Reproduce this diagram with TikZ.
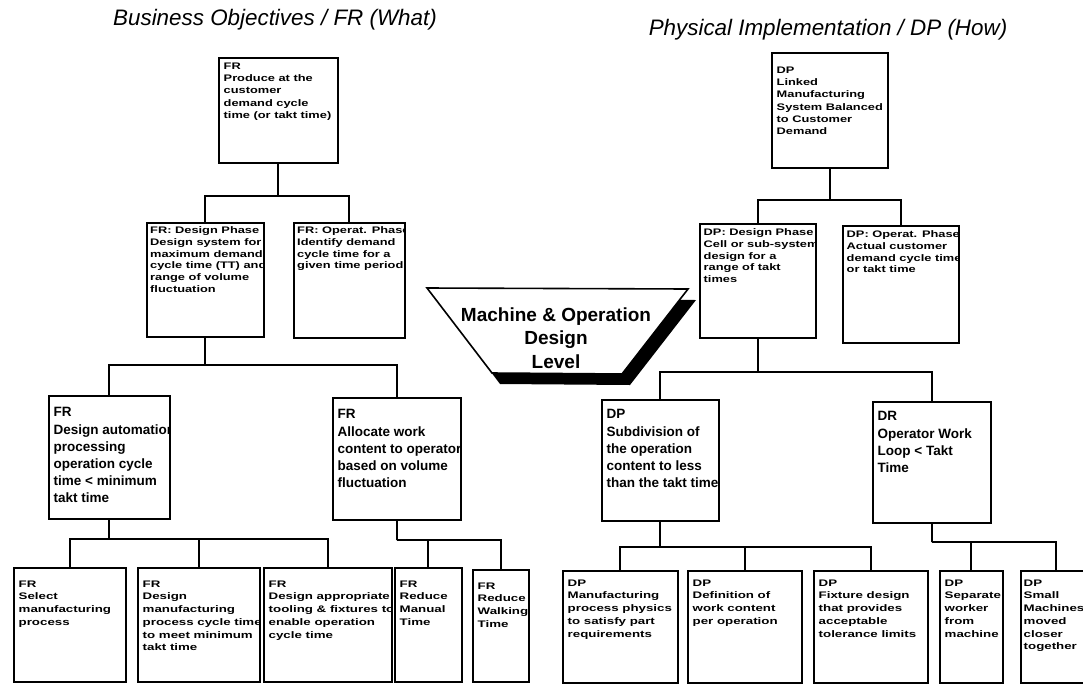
\documentclass[tikz,border=0pt]{standalone}
\usepackage{fontspec}
\setmainfont{Liberation Sans}
\newfontfamily\widefont[FakeStretch=1.35]{Liberation Sans}
\newfontfamily\lowfont[FakeStretch=1.4]{Liberation Sans}

\begin{document}
\begin{tikzpicture}[x=1pt,y=-1pt,
  box/.style 2 args={draw,line width=1.7pt,fill=white,inner sep=0pt,anchor=north west,
    preaction={fill=black,transform canvas={shift={(1.5pt,-1.5pt)}}},
    path picture={\node[boxtext,#1] at (path picture bounding box.north west) {#2};}},
  boxsize/.style 2 args={minimum width=#1,minimum height=#2},
  boxtext/.style={anchor=north west,align=left,minimum width=0pt,minimum height=0pt,inner xsep=4pt,inner ysep=4pt},
  toptext/.style={font=\widefont\bfseries\fontsize{9.5}{12.3}\selectfont},
  sidetext/.style={font=\widefont\bfseries\fontsize{9.5}{11.8}\selectfont},
  midtext/.style={font=\bfseries\fontsize{13.5}{17.2}\selectfont},
  lowtext/.style={font=\lowfont\bfseries\fontsize{9.5}{12.7}\selectfont},
  link/.style={line width=1.8pt},
  heading/.style={anchor=base,font=\fontsize{22.4}{26}\selectfont\itshape}]
  \useasboundingbox[fill=white] (0,0) rectangle (1083,688);
  % Column headings
  \node[heading] (frhead) at (275,25) {Business Objectives / FR (What)};
  \node[heading] (dphead) at (828,35) {Physical Implementation / DP (How)};
  % FR side
  \node[box={toptext}{FR\\Produce at the\\customer\\demand cycle\\time (or takt time)},boxsize={119}{105}] (fr0) at (218,57) {};
  \node[box={sidetext,inner xsep=2.5pt,inner ysep=3pt}{FR: Design Phase\\Design system for\\maximum demand\\cycle time (TT) and\\range of volume\\fluctuation},boxsize={117}{114}] (fr1) at (146,222) {};
  \node[box={sidetext,inner xsep=2.5pt,inner ysep=3pt}{FR: Operat. Phase\\Identify demand\\cycle time for a\\given time period},boxsize={111}{115}] (fr2) at (293,222) {};
  \node[box={midtext,inner ysep=11pt}{FR\\Design automation\\processing\\operation cycle\\time < minimum\\takt time},boxsize={121}{123}] (fr3) at (48,395) {};
  \node[box={midtext,inner ysep=11pt}{FR\\Allocate work\\content to operator\\based on volume\\fluctuation},boxsize={128}{122}] (fr4) at (332,397) {};
  \node[box={lowtext,inner ysep=12pt}{FR\\Select\\manufacturing\\process},boxsize={112}{114}] (fr5) at (13,567) {};
  \node[box={lowtext,inner ysep=12pt}{FR\\Design\\manufacturing\\process cycle time\\to meet minimum\\takt time},boxsize={122}{114}] (fr6) at (137,567) {};
  \node[box={lowtext,inner ysep=12pt}{FR\\Design appropriate\\tooling \& fixtures to\\enable operation\\cycle time},boxsize={128}{114}] (fr7) at (263,567) {};
  \node[box={lowtext,inner ysep=12pt}{FR\\Reduce\\Manual\\Time},boxsize={67}{114}] (fr8) at (394,567) {};
  \node[box={lowtext,inner ysep=12pt}{FR\\Reduce\\Walking\\Time},boxsize={56}{112}] (fr9) at (472,569) {};
  % DP side
  \node[box={toptext,inner ysep=13pt}{DP\\Linked\\Manufacturing\\System Balanced\\to Customer\\Demand},boxsize={116}{115}] (dp0) at (771,52) {};
  \node[box={sidetext,inner xsep=3pt}{DP: Design Phase\\Cell or sub-system\\design for a\\range of takt\\times},boxsize={116}{114}] (dp1) at (699,223) {};
  \node[box={sidetext,inner xsep=3pt}{DP: Operat. Phase\\Actual customer\\demand cycle time\\or takt time},boxsize={116}{117}] (dp2) at (842,225) {};
  \node[box={midtext,inner ysep=9pt}{DP\\Subdivision of\\the operation\\content to less\\than the takt time},boxsize={117}{121}] (dp3) at (601,399) {};
  \node[box={midtext,inner ysep=9pt}{DR\\Operator Work\\Loop < Takt\\Time},boxsize={118}{121}] (dp4) at (872,401) {};
  \node[box={lowtext,inner ysep=8pt}{DP\\Manufacturing\\process physics\\to satisfy part\\requirements},boxsize={115}{112}] (dp5) at (562,570) {};
  \node[box={lowtext,inner ysep=8pt}{DP\\Definition of\\work content\\per operation},boxsize={114}{112}] (dp6) at (687,570) {};
  \node[box={lowtext,inner ysep=8pt}{DP\\Fixture design\\that provides\\acceptable\\tolerance limits},boxsize={114}{112}] (dp7) at (813,570) {};
  \node[box={lowtext,inner ysep=8pt}{DP\\Separate\\worker\\from\\machine},boxsize={63}{112}] (dp8) at (939,570) {};
  \node[box={lowtext,inner ysep=8pt,inner xsep=2pt}{DP\\Small\\Machines\\moved\\closer\\together},boxsize={70}{112}] (dp9) at (1020,570) {};
  % FR links
  \draw[link] (fr0.south) -- ++(0,32) coordinate (fr0bus);
  \draw[link] (fr1.north) |- (fr0bus) -| (fr2.north);
  \draw[link] (fr1.south) -- ++(0,27) coordinate (fr1bus);
  \draw[link] (fr3.north) |- (fr1bus) -| (fr4.north);
  \draw[link] (fr3.south) -- ++(0,19) coordinate (fr3bus);
  \draw[link] (fr5.north) |- (fr3bus) -| (fr7.north);
  \draw[link] (fr6.north) -- (fr6.north |- fr3bus);
  \draw[link] (fr4.south) -- ++(0,19) coordinate (fr4bus);
  \draw[link] (fr8.north) |- (fr4bus) -| (fr9.north);
  % DP links
  \draw[link] (dp0.south) -- ++(0,31) coordinate (dp0bus);
  \draw[link] (dp1.north) |- (dp0bus) -| (dp2.north);
  \draw[link] (dp1.south) -- ++(0,33) coordinate (dp1bus);
  \draw[link] (dp3.north) |- (dp1bus) -| (dp4.north);
  \draw[link] (dp3.south) -- ++(0,25) coordinate (dp3bus);
  \draw[link] (dp5.north) |- (dp3bus) -| (dp7.north);
  \draw[link] (dp6.north) -- (dp6.north |- dp3bus);
  \draw[link] (dp4.south) -- ++(0,18) coordinate (dp4bus);
  \draw[link] (dp8.north) |- (dp4bus) -| (dp9.north);
  % Design level banner
  \fill (436,299) -- (696,300) -- (630,385) -- (500,384) -- cycle;
  \filldraw[fill=white,line width=1.6pt] (427,288) -- (688,289) -- (622,374) -- (492,373) -- cycle;
  \node[font=\bfseries\fontsize{19}{23.5}\selectfont,align=center] (level) at (556,338) {Machine \& Operation\\Design\\Level};
\end{tikzpicture}
\end{document}
